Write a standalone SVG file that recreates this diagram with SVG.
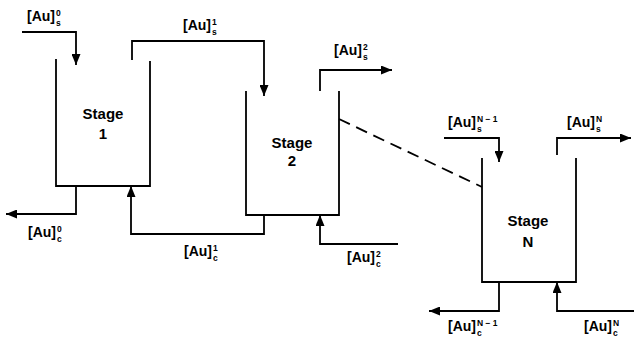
<svg xmlns="http://www.w3.org/2000/svg" width="634" height="339" viewBox="0 0 634 339">
<style>
.ln{fill:none;stroke:#000;stroke-width:1.8}
.ar{marker-end:url(#ah)}
.dash{stroke-dasharray:12,7}
text{font-family:"Liberation Sans",Arial,sans-serif;font-weight:bold;fill:#000}
.lb{font-size:14px}
.sc{font-size:8.5px}
.st{font-size:15px;text-anchor:middle}
</style>
<defs>
<marker id="ah" markerUnits="userSpaceOnUse" markerWidth="11" markerHeight="9" refX="11" refY="4.5" orient="auto">
<path d="M0,0 L11,4.5 L0,9 z" fill="#000"/>
</marker>
</defs>
<rect width="634" height="339" fill="#fff"/>
<g id="stage1">
<path class="ln" d="M56,59 V186 H150 V61"/>
<text class="st" x="103" y="119">Stage</text>
<text class="st" x="103" y="139">1</text>
</g>
<g id="stage2">
<path class="ln" d="M246,91 V215 H339 V91"/>
<text class="st" x="292" y="148">Stage</text>
<text class="st" x="292" y="166">2</text>
</g>
<g id="stageN">
<path class="ln" d="M482,158 V282 H576 V158"/>
<text class="st" x="528" y="226">Stage</text>
<text class="st" x="528" y="247">N</text>
</g>
<g id="connectors">
<path class="ln ar" d="M22,32 H76 V65"/>
<path class="ln ar" d="M132,60 V41 H264 V96"/>
<path class="ln ar" d="M320,91 V70 H392"/>
<path class="ln ar" d="M76,186 V214 H6"/>
<path class="ln ar" d="M264,215 V234 H131 V186"/>
<path class="ln ar" d="M398,244 H320 V215"/>
<path class="ln dash" d="M339,119 L482,187"/>
<path class="ln ar" d="M444,138 H499 V162"/>
<path class="ln ar" d="M557,155 V138 H631"/>
<path class="ln ar" d="M499,282 V311 H429"/>
<path class="ln ar" d="M634,311 H557 V282"/>
</g>
<g id="labels">
<text class="lb" x="27" y="21">[Au]<tspan class="sc" x="56" y="16">0</tspan><tspan class="sc" x="56" y="26">s</tspan></text>
<text class="lb" x="183" y="30">[Au]<tspan class="sc" x="212" y="25">1</tspan><tspan class="sc" x="212" y="35">s</tspan></text>
<text class="lb" x="334" y="55">[Au]<tspan class="sc" x="363" y="50">2</tspan><tspan class="sc" x="363" y="60">s</tspan></text>
<text class="lb" x="28" y="237">[Au]<tspan class="sc" x="57" y="232">0</tspan><tspan class="sc" x="57" y="242">c</tspan></text>
<text class="lb" x="184" y="256">[Au]<tspan class="sc" x="213" y="251">1</tspan><tspan class="sc" x="213" y="261">c</tspan></text>
<text class="lb" x="347" y="262">[Au]<tspan class="sc" x="376" y="257">2</tspan><tspan class="sc" x="376" y="267">c</tspan></text>
<text class="lb" x="448" y="127">[Au]<tspan class="sc" x="477" y="122">N − 1</tspan><tspan class="sc" x="477" y="132">s</tspan></text>
<text class="lb" x="567" y="127">[Au]<tspan class="sc" x="596" y="122">N</tspan><tspan class="sc" x="596" y="132">s</tspan></text>
<text class="lb" x="448" y="331">[Au]<tspan class="sc" x="477" y="326">N − 1</tspan><tspan class="sc" x="477" y="336">c</tspan></text>
<text class="lb" x="584" y="331">[Au]<tspan class="sc" x="613" y="326">N</tspan><tspan class="sc" x="613" y="336">c</tspan></text>
</g>
</svg>
